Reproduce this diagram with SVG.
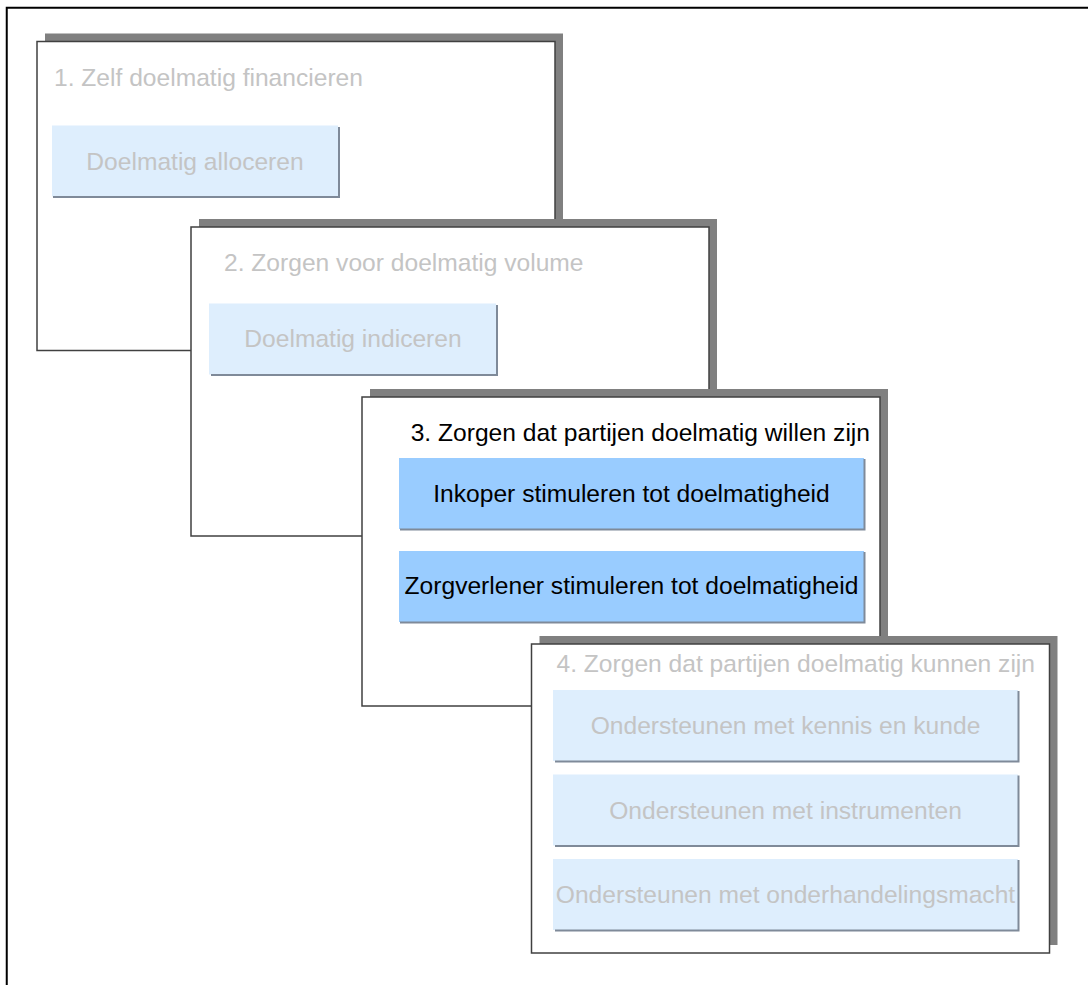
<svg xmlns="http://www.w3.org/2000/svg" width="1088" height="985" viewBox="0 0 1088 985">
<style>
.frame{fill:none;stroke:#000;stroke-width:2}
.shadow{fill:#808080}
.panel{fill:#fff;stroke:#404040;stroke-width:1.5}
.txt{font-family:"Liberation Sans",Arial,sans-serif;font-size:24.6px}
.dim{fill:#C4C4C4}
.act{fill:#000}
.boxL{fill:#DEEEFD}
.boxB{fill:#99CCFF}
.edge{fill:none;stroke:#7F8A99;stroke-width:2}
</style>
<rect width="1088" height="985" fill="#fff"/>
<rect class="frame" x="6.75" y="7.75" width="1100" height="1000"/>

<g id="panel1">
  <rect class="shadow" x="45" y="33.5" width="518" height="309"/>
  <rect class="panel" x="37" y="41.5" width="518" height="309"/>
  <text class="txt dim" x="54" y="86">1. Zelf doelmatig financieren</text>
  <g id="box1">
    <rect class="boxL" x="52" y="125.5" width="286" height="71"/>
    <polyline class="edge" points="53,197 339,197 339,127"/>
    <text class="txt dim" x="195" y="170" text-anchor="middle">Doelmatig alloceren</text>
  </g>
</g>

<g id="panel2">
  <rect class="shadow" x="199" y="219" width="518" height="309"/>
  <rect class="panel" x="191" y="227" width="518" height="309"/>
  <text class="txt dim" x="224" y="271">2. Zorgen voor doelmatig volume</text>
  <g id="box2">
    <rect class="boxL" x="209" y="303.5" width="287" height="71"/>
    <polyline class="edge" points="211,375 497,375 497,305"/>
    <text class="txt dim" x="353" y="347" text-anchor="middle">Doelmatig indiceren</text>
  </g>
</g>

<g id="panel3">
  <rect class="shadow" x="370" y="389" width="518" height="309"/>
  <rect class="panel" x="362" y="397" width="518" height="309"/>
  <text class="txt act" x="870" y="441" text-anchor="end">3. Zorgen dat partijen doelmatig willen zijn</text>
  <g id="box3a">
    <rect class="boxB" x="399" y="458" width="465" height="71"/>
    <polyline class="edge" points="400,529.5 864.5,529.5 864.5,459"/>
    <text class="txt act" x="631.5" y="502" text-anchor="middle">Inkoper stimuleren tot doelmatigheid</text>
  </g>
  <g id="box3b">
    <rect class="boxB" x="399" y="551" width="465" height="71"/>
    <polyline class="edge" points="400,622.5 864.5,622.5 864.5,552"/>
    <text class="txt act" x="631.5" y="594" text-anchor="middle">Zorgverlener stimuleren tot doelmatigheid</text>
  </g>
</g>

<g id="panel4">
  <rect class="shadow" x="539.5" y="636" width="518" height="309"/>
  <rect class="panel" x="531.5" y="644" width="518" height="309"/>
  <text class="txt dim" x="1035" y="672" text-anchor="end">4. Zorgen dat partijen doelmatig kunnen zijn</text>
  <g id="box4a">
    <rect class="boxL" x="553" y="690" width="465" height="71"/>
    <polyline class="edge" points="555,761.5 1018.5,761.5 1018.5,691"/>
    <text class="txt dim" x="785.5" y="734" text-anchor="middle">Ondersteunen met kennis en kunde</text>
  </g>
  <g id="box4b">
    <rect class="boxL" x="553" y="774.5" width="465" height="71"/>
    <polyline class="edge" points="555,846 1018.5,846 1018.5,775.5"/>
    <text class="txt dim" x="785.5" y="818.5" text-anchor="middle">Ondersteunen met instrumenten</text>
  </g>
  <g id="box4c">
    <rect class="boxL" x="553" y="859" width="465" height="71"/>
    <polyline class="edge" points="555,930.5 1018.5,930.5 1018.5,860"/>
    <text class="txt dim" x="785.5" y="903" text-anchor="middle">Ondersteunen met onderhandelingsmacht</text>
  </g>
</g>

<g id="connectors"></g>
</svg>
